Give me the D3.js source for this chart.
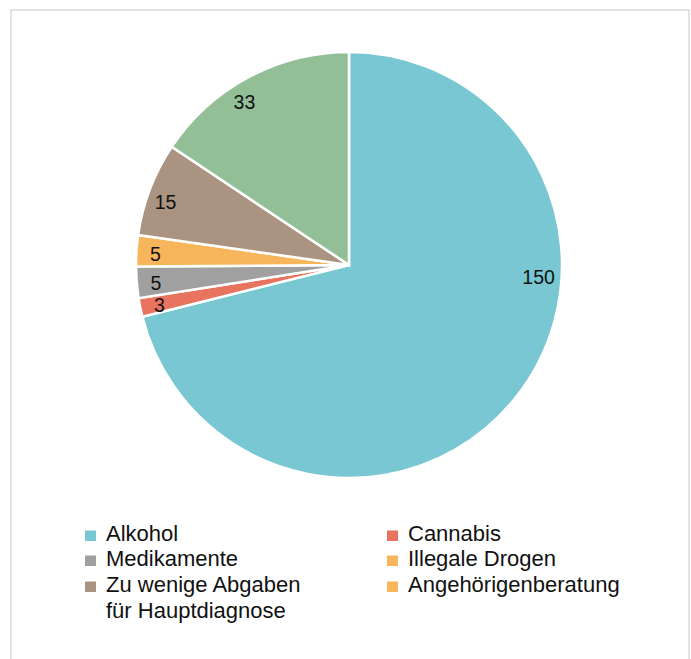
<!DOCTYPE html>
<html>
<head>
<meta charset="utf-8">
<script src="https://cdn.jsdelivr.net/npm/d3@7"></script>
<style>
  body { margin: 0; background: #fff; }
  svg { display: block; font-family: "Liberation Sans", Arial, sans-serif; }
</style>
</head>
<body>
<svg id="chart"></svg>
<script>
// Pie data, clockwise from 12 o'clock
const categories = ["Alkohol", "Cannabis", "Medikamente", "Illegale Drogen", "Zu wenige Abgaben für Hauptdiagnose", "Angehörigenberatung"];
const values = [150, 3, 5, 5, 15, 33];
const sliceColors = ["#78c7d2", "#e8735e", "#a0a0a0", "#f8b65c", "#aa9380", "#92bf96"];
// legend swatches as in the original (last one is orange there)
const legendColors = ["#78c7d2", "#e8735e", "#a0a0a0", "#f8b65c", "#aa9380", "#f8b65c"];
const legendLines = [["Alkohol"], ["Cannabis"], ["Medikamente"], ["Illegale Drogen"], ["Zu wenige Abgaben", "für Hauptdiagnose"], ["Angehörigenberatung"]];

const width = 691, height = 659;
const cx = 349, cy = 265, radius = 213;

const svg = d3.select("#chart").attr("width", width).attr("height", height);

// frame
svg.append("rect")
  .attr("x", 11).attr("y", 10)
  .attr("width", 678).attr("height", 670)
  .attr("fill", "none")
  .attr("stroke", "#d9d9d9")
  .attr("stroke-width", 1.5);

const data = categories.map((c, i) => ({ key: c, value: values[i], i }));

const pie = d3.pie().sort(null).value(d => d.value);
const arcs = pie(data);

const g = svg.append("g").attr("transform", `translate(${cx},${cy})`);

g.selectAll("path.slice")
  .data(arcs)
  .enter()
  .append("path")
  .attr("class", "slice")
  .attr("d", d3.arc().innerRadius(0).outerRadius(radius))
  .attr("fill", d => sliceColors[d.data.i])
  .attr("stroke", "white")
  .style("stroke-width", "2.5px");

// value labels near the rim; the big slice's label sits just right of center
const labelR = radius * 0.91;
function isBig(d) { return d.endAngle - d.startAngle > Math.PI; }
function labelAngle(d) {
  if (isBig(d)) return Math.PI * 0.52;
  return (d.startAngle + d.endAngle) / 2 - (d.endAngle - d.startAngle) * 0.08;
}
g.selectAll("text.val")
  .data(arcs)
  .enter()
  .append("text")
  .attr("class", "val")
  .attr("x", d => Math.sin(labelAngle(d)) * labelR * (isBig(d) ? 0.98 : 1))
  .attr("y", d => -Math.cos(labelAngle(d)) * labelR)
  .attr("text-anchor", "middle")
  .attr("dy", "0.36em")
  .attr("font-size", 19.5)
  .attr("fill", "#111")
  .text(d => d.data.value);

// legend, two columns
const colX = [85, 387];
const rowY = [541, 566, 592];
const legend = svg.append("g");
legendLines.forEach((lines, i) => {
  const x = colX[i % 2];
  const y = rowY[Math.floor(i / 2)];
  legend.append("rect")
    .attr("x", x).attr("y", y - 10.5)
    .attr("width", 11).attr("height", 10.5)
    .attr("fill", legendColors[i]);
  lines.forEach((t, j) => {
    legend.append("text")
      .attr("x", x + 21)
      .attr("y", y + j * 26)
      .attr("font-size", 22)
      .attr("fill", "#111")
      .text(t);
  });
});
</script>
</body>
</html>
